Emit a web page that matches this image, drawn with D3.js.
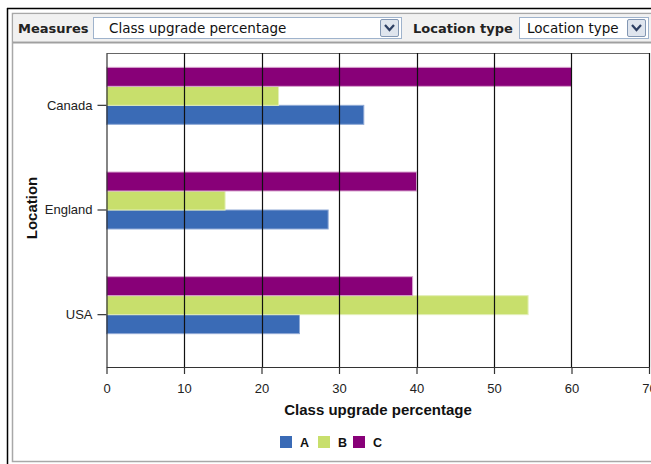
<!DOCTYPE html>
<html>
<head>
<meta charset="utf-8">
<script src="https://cdn.jsdelivr.net/npm/d3@7"></script>
<style>
  html, body { margin: 0; padding: 0; background: #fff; }
  svg { display: block; }
</style>
</head>
<body>
<svg id="chart" width="651" height="464"></svg>
<script>
// ---- data ----
const locations = ["Canada", "England", "USA"];
const seriesNames = ["A", "B", "C"];
const valuesA = [33.2, 28.6, 24.9];
const valuesB = [22.2, 15.3, 54.4];
const valuesC = [60, 40, 39.5];
const xTicks = [0, 10, 20, 30, 40, 50, 60, 70];
const measureLabel = "Measures";
const measureValue = "Class upgrade percentage";
const locTypeLabel = "Location type";
const locTypeValue = "Location type";
const xTitle = "Class upgrade percentage";
const yTitle = "Location";

(function () {
const colors = { A: "#3a6bb6", B: "#c8df6c", C: "#880078" };
const borders = { A: "#8fa9d6", B: "#e3efb8", C: "#d9a6d0" };

const seriesValues = { A: valuesA, B: valuesB, C: valuesC };

const svg = d3.select("#chart");
const tbFont = "DejaVu Sans, Verdana, sans-serif";

// ---- frame & toolbar ----
svg.append("line").attr("x1", 7.5).attr("x2", 7.5).attr("y1", 8).attr("y2", 464)
  .attr("stroke", "#000").attr("stroke-width", 1.5);
svg.append("line").attr("x1", 7).attr("x2", 651).attr("y1", 8.5).attr("y2", 8.5)
  .attr("stroke", "#000").attr("stroke-width", 1.5);

svg.append("rect").attr("x", 12.5).attr("y", 13.5).attr("width", 660).attr("height", 448)
  .attr("fill", "#fff").attr("stroke", "#a8a8a8").attr("stroke-width", 1.5);
svg.append("rect").attr("x", 13.5).attr("y", 14.5).attr("width", 660).attr("height", 27)
  .attr("fill", "#f1f1f1");
svg.append("line").attr("x1", 13).attr("x2", 651).attr("y1", 42.5).attr("y2", 42.5)
  .attr("stroke", "#a0a0a0").attr("stroke-width", 2);

function select(x, w, label, pad) {
  const g = svg.append("g");
  g.append("rect").attr("x", x + 0.5).attr("y", 17.5).attr("width", w).attr("height", 21)
    .attr("fill", "#fff").attr("stroke", "#9fb3cc");
  g.append("text").attr("x", x + pad).attr("y", 33).text(label)
    .attr("font-family", tbFont).attr("font-size", 13.5).attr("fill", "#111");
  const bx = x + w - 21;
  g.append("rect").attr("x", bx + 0.5).attr("y", 19.5).attr("width", 18).attr("height", 17)
    .attr("fill", "#dfe5ee").attr("stroke", "#8397b3").attr("rx", 1.5);
  g.append("path").attr("d", `M${bx + 5},${25} L${bx + 9.5},${30} L${bx + 14},${25}`)
    .attr("fill", "none").attr("stroke", "#2d3f63").attr("stroke-width", 2.2);
}
svg.append("text").attr("x", 18).attr("y", 33).text(measureLabel)
  .attr("font-family", tbFont).attr("font-size", 13)
  .attr("font-weight", "bold").attr("fill", "#222");
select(93, 308, measureValue, 16);
svg.append("text").attr("x", 413).attr("y", 33).text(locTypeLabel)
  .attr("font-family", tbFont).attr("font-size", 13)
  .attr("font-weight", "bold").attr("fill", "#222");
select(519, 129, locTypeValue, 8);

// ---- chart ----
const pl = 106.5, pr = 649, pt = 53, pb = 367;
const x = d3.scaleLinear().domain([0, 70]).range([pl, pr]);
const y = d3.scaleBand().domain(locations).range([pt, pb])
  .paddingInner(0.274).paddingOuter(0.137);
const sub = d3.scaleBand().domain(["C", "B", "A", "_"]).range([0, y.bandwidth()]);

const font = "Liberation Sans, Arial, sans-serif";

// top border
svg.append("line").attr("x1", pl).attr("x2", pr).attr("y1", pt + 0.5).attr("y2", pt + 0.5)
  .attr("stroke", "#666").attr("stroke-width", 1);

// bars
const rows = [];
locations.forEach((loc, i) => {
  seriesNames.forEach(s => rows.push({ loc, s, v: seriesValues[s][i] }));
});
svg.append("g").selectAll("rect").data(rows).join("rect")
  .attr("x", pl)
  .attr("y", d => y(d.loc) + sub(d.s))
  .attr("width", d => x(d.v) - pl)
  .attr("height", sub.bandwidth())
  .attr("fill", d => colors[d.s])
  .attr("stroke", d => borders[d.s])
  .attr("stroke-width", 1);

// gridlines
svg.append("g").selectAll("line").data(xTicks.slice(1)).join("line")
  .attr("x1", d => Math.round(x(d)) + 0.5).attr("x2", d => Math.round(x(d)) + 0.5)
  .attr("y1", pt).attr("y2", pb)
  .attr("stroke", "#111").attr("stroke-width", 1.2);

// x axis
const xAxis = d3.axisBottom(x).tickValues(xTicks).tickSize(7).tickPadding(10).tickSizeOuter(0);
const gx = svg.append("g").attr("transform", `translate(0,${pb})`).call(xAxis);
gx.select(".domain").attr("stroke", "#333").attr("stroke-width", 1.2);
gx.selectAll(".tick line").attr("stroke", "#333").attr("stroke-width", 1.2);
gx.selectAll("text").attr("font-family", font).attr("font-size", 13).attr("fill", "#222");

// y axis
const yAxis = d3.axisLeft(y).tickSize(9).tickPadding(5).tickSizeOuter(0);
const gy = svg.append("g").attr("transform", `translate(${pl},0)`).call(yAxis);
gy.select(".domain").attr("stroke", "#333").attr("stroke-width", 1.2);
gy.selectAll(".tick line").attr("stroke", "#333").attr("stroke-width", 1.2);
gy.selectAll("text").attr("font-family", font).attr("font-size", 13).attr("fill", "#222");

// titles
svg.append("text").attr("x", 378).attr("y", 415).attr("text-anchor", "middle")
  .attr("font-family", font).attr("font-size", 15).attr("font-weight", "bold").attr("fill", "#111")
  .text(xTitle);
svg.append("text").attr("transform", "translate(37,208) rotate(-90)").attr("text-anchor", "middle")
  .attr("font-family", font).attr("font-size", 15).attr("font-weight", "bold").attr("fill", "#111")
  .text(yTitle);

// legend
const legendX = [280, 318, 353];
const lg = svg.append("g").selectAll("g").data(seriesNames).join("g")
  .attr("transform", (d, i) => `translate(${legendX[i]},436)`);
lg.append("rect").attr("width", 12).attr("height", 12).attr("fill", d => colors[d]);
lg.append("text").attr("x", 20).attr("y", 10.5).text(d => d)
  .attr("font-family", font).attr("font-size", 12.5).attr("font-weight", "bold").attr("fill", "#111");
})();
</script>
</body>
</html>
